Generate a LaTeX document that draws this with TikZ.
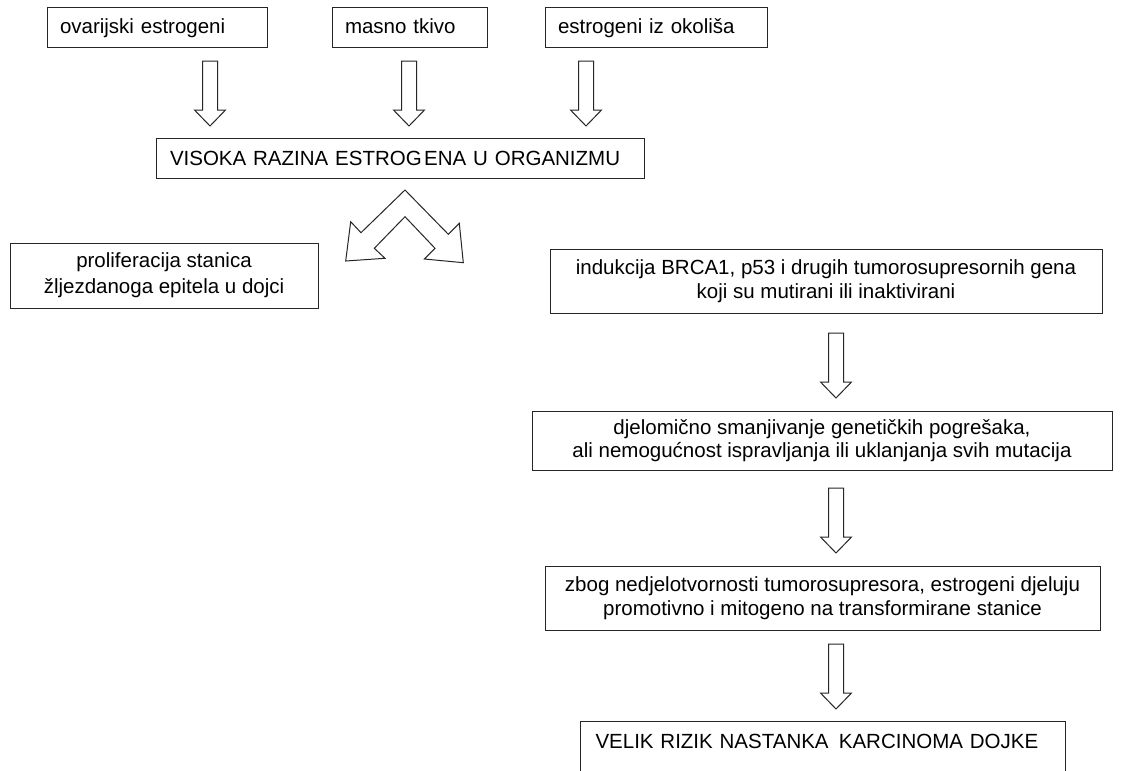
\documentclass[tikz,border=0pt]{standalone}
\usepackage{fontspec}
\setmainfont{Liberation Sans}
\begin{document}
\begin{tikzpicture}[x=1pt,y=-1pt,
  boxline/.style={draw=black!85, line width=1pt},
  txt/.style={font=\fontsize{20.5}{23.5}\selectfont},
  lbox/.style={boxline, txt, rectangle, inner xsep=13pt, inner ysep=0pt,
    align=left, minimum height=40pt, text height=16pt, text depth=2pt},
  cbox/.style={boxline, txt, rectangle, inner sep=0pt, align=center},
  blockline/.style={draw=black!85, line width=1pt, fill=white, line join=miter},
  pics/downblock/.style={code={
    \draw[blockline] (-7.5,0) -- (7.5,0) -- (7.5,49) -- (15.5,49) -- (0,65)
      -- (-15.5,49) -- (-7.5,49) -- cycle;}}
]
\fill[white] (0,0) rectangle (1128,771);
\useasboundingbox (0,0) rectangle (1128,771);
\clip (0,0) rectangle (1128,771);

% sources of estrogen
\node[lbox, text width=194pt] (ovar) at (157,27) {\mbox{ovarijski estrogeni}};
\node[lbox, text width=129pt] (fat) at (409.5,27) {\mbox{masno tkivo}};
\node[lbox, text width=196pt] (env) at (656,27) {\mbox{estrogeni iz okoliša}};

\pic (a1) at (210,61) {downblock};
\pic (a2) at (409,61) {downblock};
\pic (a3) at (586,61) {downblock};

% central state
\node[lbox, inner xsep=14pt, text width=460pt] (high) at (400,158)
  {\mbox{VISOKA RAZINA ESTROG\hspace{0.12em}ENA U ORGANIZMU}};

% split arrow
\draw[blockline] (405,190) -- (448.3,234.3) -- (459.3,223.3) -- (463.3,262.7)
  -- (424.3,259) -- (435,248.3) -- (405,216.7) -- (374.3,248.3)
  -- (385,258.3) -- (345.7,261) -- (350.7,221.7) -- (361,232.7) -- cycle;

% left branch
\node[cbox, font=\fontsize{20.5}{26}\selectfont, minimum width=308pt,
  minimum height=65pt] (prolif) at (164,275.5)
  {proliferacija stanica\\žljezdanoga epitela u dojci};

% right branch
\node[cbox, minimum width=552pt, minimum height=64pt] (induk) at (826,281)
  {indukcija BRCA1, p53 i drugih tumorosupresornih gena\\koji su mutirani ili inaktivirani};
\pic (a4) at (836,333) {downblock};

\node[cbox, minimum width=580pt, minimum height=59pt] (djel) at (822,440.5)
  {djelomično smanjivanje genetičkih pogrešaka,\\ali nemogućnost ispravljanja ili uklanjanja svih mutacija};
\pic (a5) at (836,488) {downblock};

\node[cbox, minimum width=555pt, minimum height=64pt] (zbog) at (822.5,598)
  {zbog nedjelotvornosti tumorosupresora, estrogeni djeluju\\promotivno i mitogeno na transformirane stanice};
\pic (a6) at (836,644) {downblock};

\node[boxline, txt, rectangle, anchor=north west, inner xsep=15pt, inner ysep=0pt,
  text width=455pt, align=left, text height=27pt, text depth=60pt] (risk) at (580,721)
  {\mbox{VELIK RIZIK NASTANKA \,KARCINOMA DOJKE}};
\end{tikzpicture}
\end{document}
